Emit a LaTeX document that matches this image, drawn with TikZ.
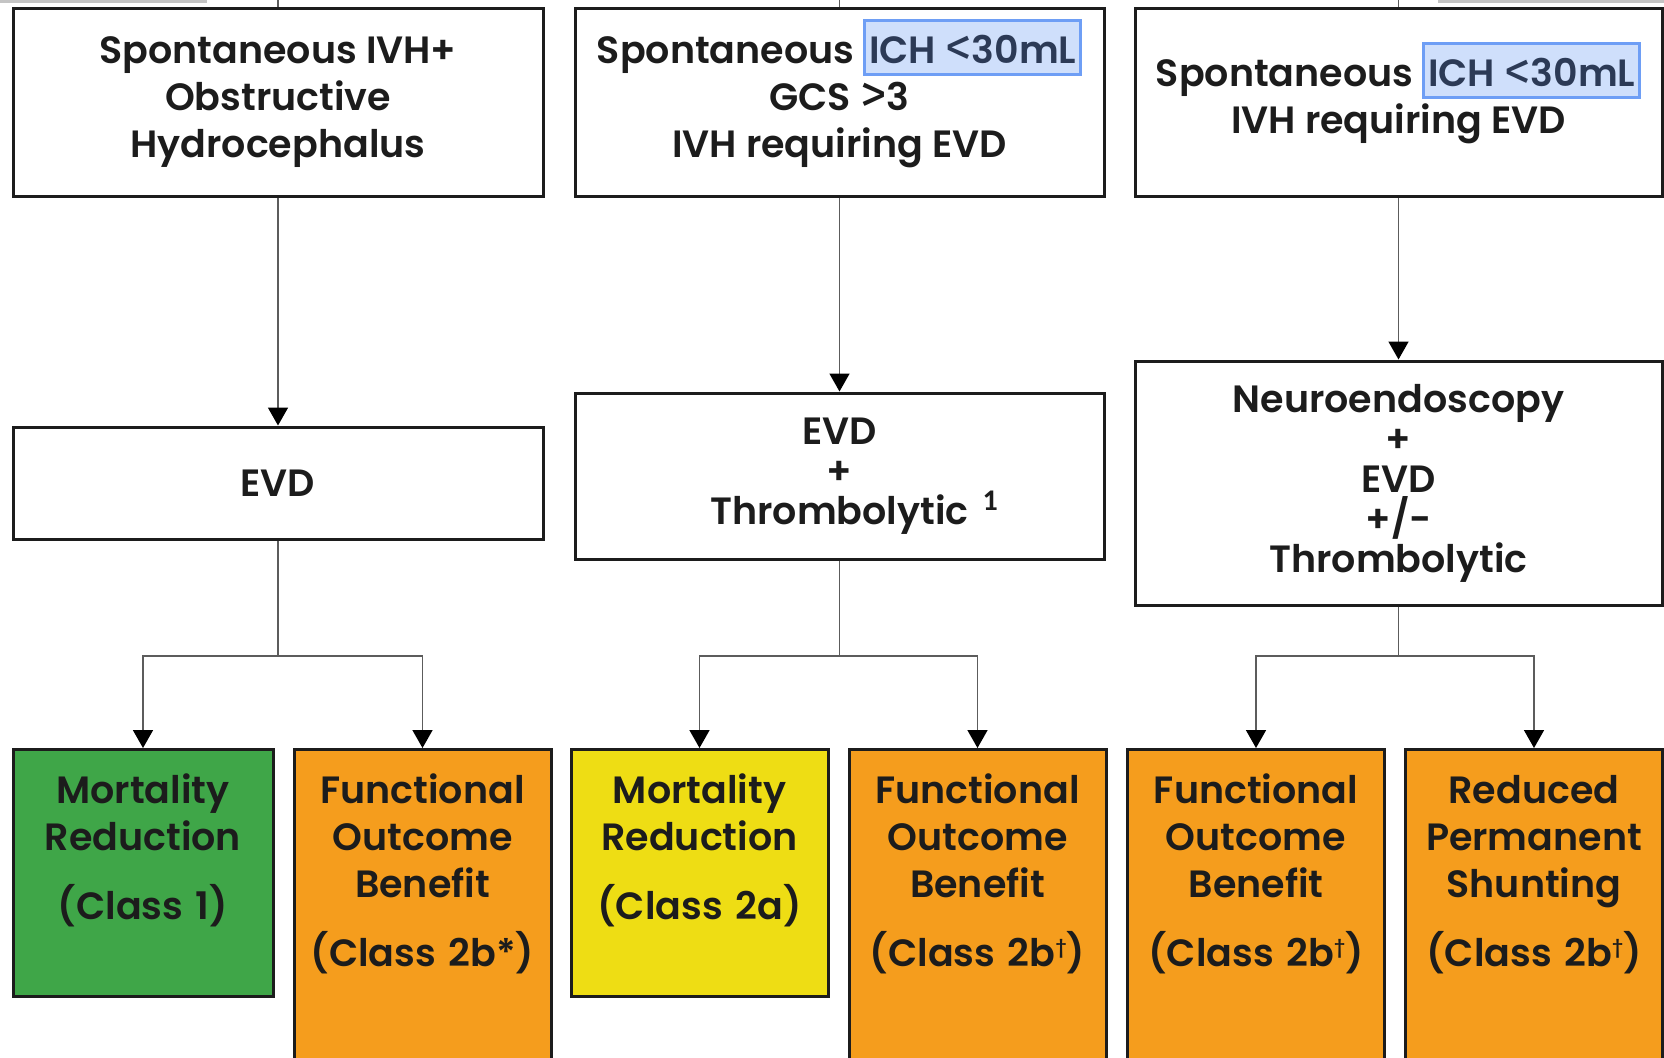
\documentclass[tikz,border=0pt]{standalone}
\usepackage{fontspec}
\usetikzlibrary{arrows.meta}
\setmainfont{Poppins}[BoldFont={Poppins SemiBold}]
\newfontfamily\notefont{Carlito}
\newfontfamily\signfont{Fira Sans}

\definecolor{inkblack}{HTML}{1C1C1C}
\definecolor{linkgray}{HTML}{5C5C5C}
\definecolor{scrapgray}{HTML}{C4C4C4}
\definecolor{benefitgreen}{HTML}{3FA648}
\definecolor{benefityellow}{HTML}{EEDD14}
\definecolor{benefitorange}{HTML}{F59D1D}
\definecolor{hlfill}{HTML}{CFDFFB}
\definecolor{hlborder}{HTML}{6E9EF5}
\definecolor{hltext}{HTML}{2C3A56}

% highlighted volume limit
\newcommand{\ichmark}[1]{\raisebox{0pt}[0pt][0pt]{\setlength{\fboxsep}{1.5pt}\setlength{\fboxrule}{1.4pt}\fcolorbox{hlborder}{hlfill}{\color{hltext}\rule[-3.35pt]{0pt}{22.7pt}#1}}}
% footnote mark
\newcommand{\refone}{\rlap{\hspace{7pt}\raisebox{7pt}{\notefont\bfseries\fontsize{15}{15}\selectfont 1}}}
\newcommand{\lt}{\raisebox{-1.2pt}{\scalebox{1.4}{\signfont\mdseries <}}}
\newcommand{\gt}{\raisebox{-1.2pt}{\scalebox{1.4}{\signfont\mdseries >}}}
\newcommand{\dagmark}{\raisebox{6.5pt}{\fontsize{9}{9}\selectfont †}}

\tikzset{
  boxfont/.style={font=\fontsize{19}{23.5}\selectfont\bfseries},
  groupbox/.style={boxfont, draw=inkblack, line width=1.5pt, fill=white, text=inkblack, align=center, minimum height=94pt, inner sep=0pt},
  treatbox/.style={groupbox, font=\fontsize{19}{20}\selectfont\bfseries},
  outcome/.style={boxfont, draw=inkblack, line width=1.5pt, fill=#1, text=inkblack, anchor=north, text width=120pt, align=center, minimum width=128.5pt, inner sep=0pt, text height=26.8pt, text depth=96.7pt},
  tall/.style={text depth=170pt},
  plain/.style={draw=linkgray, line width=0.8pt},
  link/.style={plain, -{Triangle[width=10pt,length=9pt,color=black]}},
  scrap/.style={draw=scrapgray, line width=1.5pt}
}

\begin{document}
\begin{tikzpicture}[x=0.5pt,y=-0.5pt]
	% Canvas
	\useasboundingbox[fill=white] (0,0) rectangle (1664,1057);
	\draw[scrap] (0,1) -- (207,1);
	\draw[scrap] (1438,1) -- (1664,1);
	
	% Patient groups
	\node[groupbox, minimum width=265pt] (grpA) at (278,102) {Spontaneous IVH+\\Obstructive\\Hydrocephalus};
	\node[groupbox, minimum width=264.5pt] (grpB) at (839.5,102) {Spontaneous \ichmark{ICH \lt30mL}\\GCS \gt3\\IVH requiring EVD};
	\node[groupbox, minimum width=263.5pt] (grpC) at (1398.5,102) {Spontaneous \ichmark{ICH \lt30mL}\\IVH requiring EVD};
	
	% Treatments
	\node[treatbox, minimum width=265pt, minimum height=56pt] (trtA) at (278,483) {EVD};
	\node[treatbox, minimum width=264.5pt, minimum height=83pt] (trtB) at (839.5,476) {EVD\\+\\Thrombolytic\refone};
	\node[treatbox, minimum width=263.5pt, minimum height=122pt] (trtC) at (1398.5,483) {Neuroendoscopy\\+\\EVD\\+/-\\Thrombolytic};
	
	% Outcomes
	\node[outcome=benefitgreen, minimum width=130pt] (outA1) at (143,748) {Mortality\\Reduction\\[11pt](Class 1)};
	\node[outcome=benefitorange, tall] (outA2) at (422.5,748) {Functional\\Outcome\\Benefit\\[11pt](Class 2b*)};
	\node[outcome=benefityellow] (outB1) at (699.5,748) {Mortality\\Reduction\\[11pt](Class 2a)};
	\node[outcome=benefitorange, tall] (outB2) at (977.5,748) {Functional\\Outcome\\Benefit\\[11pt](Class 2b\dagmark)};
	\node[outcome=benefitorange, tall] (outC1) at (1256,748) {Functional\\Outcome\\Benefit\\[11pt](Class 2b\dagmark)};
	\node[outcome=benefitorange, tall] (outC2) at (1534,748) {Reduced\\Permanent\\Shunting\\[11pt](Class 2b\dagmark)};
	
	% Connectors
	\coordinate (inA) at (278,-4);
	\coordinate (inB) at (839.5,-4);
	\coordinate (inC) at (1398.5,-4);
	\coordinate (splitA) at (278,656);
	\coordinate (splitB) at (839.5,656);
	\coordinate (splitC) at (1398.5,656);
	\foreach \g in {A,B,C} {
		\draw[plain] (in\g) -- (grp\g);
		\draw[link] (grp\g) -- (trt\g);
		\draw[plain] (trt\g) -- (split\g);
		\draw[link] (split\g) -| (out\g1);
		\draw[link] (split\g) -| (out\g2);
	}
\end{tikzpicture}
\end{document}
